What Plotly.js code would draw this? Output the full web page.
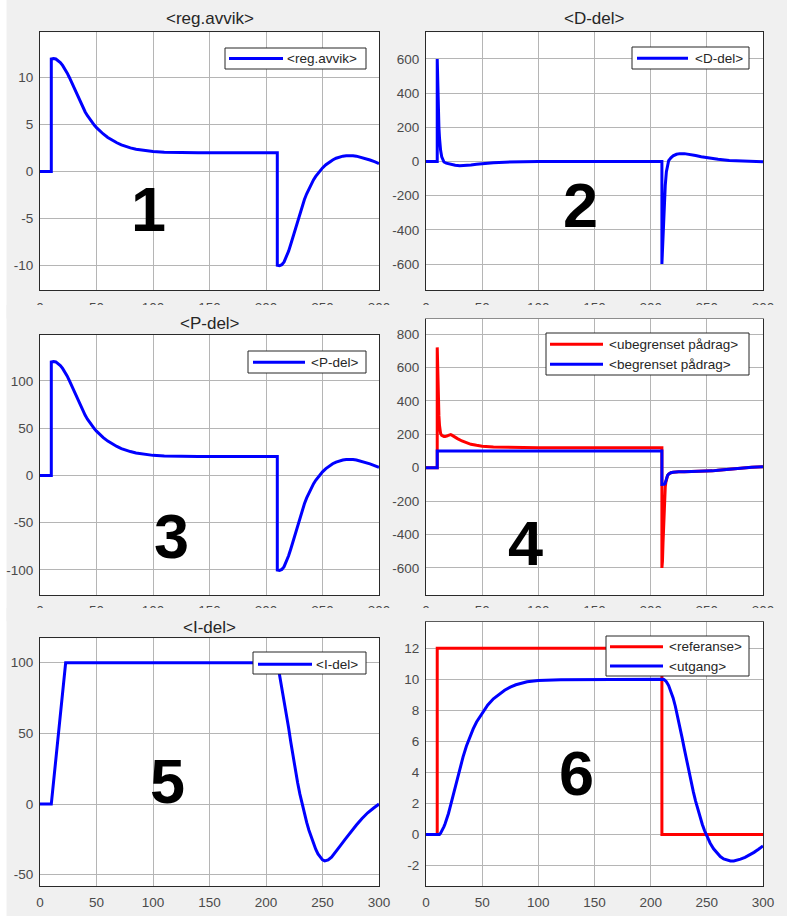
<!DOCTYPE html>
<html>
<head>
<meta charset="utf-8">
<script src="https://cdn.plot.ly/plotly-3.0.1.min.js"></script>
<style>
  html, body { margin: 0; padding: 0; background: #f0f0f0; }
  #plot { width: 787px; height: 916px; }
</style>
</head>
<body>
<div id="plot"></div>
<script>
// ---- tick labels ----
const xTicks  = [0, 50, 100, 150, 200, 250, 300];
const yTicks1 = [-10, -5, 0, 5, 10];
const yTicks2 = [-600, -400, -200, 0, 200, 400, 600];
const yTicks3 = [-100, -50, 0, 50, 100];
const yTicks4 = [-600, -400, -200, 0, 200, 400, 600, 800];
const yTicks5 = [-50, 0, 50, 100];
const yTicks6 = [-2, 0, 2, 4, 6, 8, 10, 12];

// ---- panel titles and legend names ----
const panelTitles = ['<reg.avvik>', '<D-del>', '<P-del>', '', '<I-del>', ''];
const panelNumbers = ['1', '2', '3', '4', '5', '6'];
const nameAvvik = '<reg.avvik>';
const nameD = '<D-del>';
const nameP = '<P-del>';
const nameUbeg = '<ubegrenset pådrag>';
const nameBeg = '<begrenset pådrag>';
const nameI = '<I-del>';
const nameRef = '<referanse>';
const nameUt = '<utgang>';

// ---- 1: control error ----
const tAvvik = [0,10,10,12,14,16,18,20,22,24,26,28,30,32,34,36,38,40,42,44,46,48,50,53,56,60,64,68,72,76,80,85,90,95,100,110,120,140,210,
                210,212,214,216,218,220,222,224,226,228,230,232,234,236,238,240,242,244,246,248,250,253,256,259,262,265,268,271,274,277,280,284,288,292,296,300];
const avvik  = [0,0,12,12.05,12.0,11.85,11.62,11.32,10.95,10.52,10.03,9.5,8.95,8.38,7.82,7.29,6.8,6.35,5.95,5.58,5.25,4.95,4.68,4.32,4.0,3.63,3.32,3.06,2.84,2.66,2.52,2.38,2.27,2.18,2.12,2.05,2.02,2.0,2.0,
                -10,-10.05,-9.95,-9.65,-9.15,-8.5,-7.75,-6.95,-6.1,-5.25,-4.45,-3.7,-3.0,-2.38,-1.82,-1.33,-0.9,-0.52,-0.18,0.12,0.38,0.72,1.0,1.23,1.41,1.54,1.63,1.68,1.7,1.68,1.63,1.52,1.38,1.22,1.04,0.85];

// ---- 2: derivative part ----
const tD = [0,10,10,10.5,11,11.5,12,12.5,13,14,15,16,18,20,23,26,30,35,40,45,50,60,70,80,100,150,210,
            210,210.5,211,211.5,212,212.5,213,214,215,216,218,220,223,226,230,235,240,245,250,255,260,270,280,290,300];
const dDel = [0,0,600,420,290,200,140,95,65,28,8,-3,-10,-14,-19,-22,-25,-24,-20,-16,-12,-7,-4,-2,-0.5,0,0,
              -600,-520,-420,-330,-250,-190,-140,-60,-15,5,22,33,42,46,46,42,35,28,22,17,13,6,2,-1,-2];

// ---- 3: proportional part ----
const tP = [0,10,10,12,14,16,18,20,22,24,26,28,30,32,34,36,38,40,42,44,46,48,50,53,56,60,64,68,72,76,80,85,90,95,100,110,120,140,210,
            210,212,214,216,218,220,222,224,226,228,230,232,234,236,238,240,242,244,246,248,250,253,256,259,262,265,268,271,274,277,280,284,288,292,296,300];
const pDel = [0,0,120,120.5,120,118.5,116.2,113.2,109.5,105.2,100.3,95,89.5,83.8,78.2,72.9,68,63.5,59.5,55.8,52.5,49.5,46.8,43.2,40,36.3,33.2,30.6,28.4,26.6,25.2,23.8,22.7,21.8,21.2,20.5,20.2,20,20,
              -100,-100.5,-99.5,-96.5,-91.5,-85,-77.5,-69.5,-61,-52.5,-44.5,-37,-30,-23.8,-18.2,-13.3,-9,-5.2,-1.8,1.2,3.8,7.2,10,12.3,14.1,15.4,16.3,16.8,17,16.8,16.3,15.2,13.8,12.2,10.4,8.5];

// ---- 4: unbounded and bounded control signal ----
const tUbeg = [0,10,10,10.5,11,11.5,12,12.5,13,14,15,16,17,18,19,20,21,22,23,25,28,32,36,40,45,50,60,70,80,100,150,210,
               210,210.5,211,211.5,212,212.5,213,213.5,214,215,216,217,218,220,222,225,230,240,248,255,260,265,270,275,280,285,290,295,300];
const ubeg  = [0,0,720,530,400,310,255,220,205,193,188,186,186,187,190,194,197,198,195,186,174,160,148,140,134,129,124,122,121,120,120,120,
               -600,-560,-450,-340,-240,-165,-115,-88,-65,-47,-38,-33,-30,-27,-25,-24,-24.5,-24,-23,-19,-15,-11.5,-8,-5,-2.5,0,2.5,4.5,6];
const tBeg  = [0,10,10,210,210,211,212,212.8,213.5,214,215,216,217,218,220,222,225,230,240,248,255,260,265,270,275,280,285,290,295,300];
const beg   = [0,0,100,100,-100,-100,-99,-95,-75,-62,-47,-38,-33,-30,-27,-25,-24,-24.5,-24,-23,-19,-15,-11.5,-8,-5,-2.5,0,2.5,4.5,6];

// ---- 5: integral part ----
const tI = [0,10,22.7,60,120,180,210,211,212,214,216,218,220,222,224,226,228,230,232,234,236,238,240,242,244,246,248,250,252,255,258,262,266,270,275,280,285,290,295,300];
const iDel = [0,0,100,100,100,100,100,96,91.5,83,74,64,54,43.5,33.5,24,15,7,-0.5,-7,-13,-18.5,-23.5,-28,-32,-35.3,-37.9,-39.5,-40.2,-39.6,-37.6,-33.7,-29.3,-25,-19.6,-14.8,-10.2,-6.2,-3,0];

// ---- 6: reference and output ----
const tRef = [0,10,10,210,210,300];
const ref  = [0,0,12,12,0,0];
const tUt = [0,12,13,14,15,16,17,18,19,20,22,24,27,30,33,36,39,42,45,48,50,55,60,65,70,75,80,90,100,120,150,211,212,213,214,216,218,220,222,224,226,228,230,232,234,236,238,240,242,244,246,248,250,253,256,259,262,265,268,271,274,277,280,284,288,292,296,300];
const utgang = [0,0,0.08,0.2,0.33,0.5,0.69,0.9,1.12,1.35,1.9,2.5,3.4,4.2,5.0,5.7,6.3,6.8,7.25,7.6,7.85,8.35,8.75,9.05,9.3,9.5,9.65,9.85,9.93,9.98,10.0,10.0,9.98,9.93,9.85,9.6,9.25,8.8,8.25,7.63,6.95,6.23,5.5,4.77,4.06,3.38,2.74,2.15,1.6,1.1,0.64,0.23,-0.13,-0.57,-0.93,-1.22,-1.43,-1.58,-1.67,-1.71,-1.71,-1.67,-1.6,-1.48,-1.33,-1.16,-0.96,-0.75];

// ---------------- layout helpers ----------------
const W = 787, H = 916;
const fx = x => x / W;
const fy = y => 1 - y / H;

// plot-area boxes in page pixels (left, right, top, bottom)
const boxes = [
  {l: 40,  r: 379, t: 32.3,  b: 290},
  {l: 426, r: 763, t: 32.3,  b: 290},
  {l: 40,  r: 379, t: 335,   b: 595},
  {l: 426, r: 763, t: 319,   b: 595},
  {l: 40,  r: 379, t: 638.3, b: 886},
  {l: 426, r: 763, t: 621.7, b: 886}
];
const yRanges = [[-12.65, 14.85], [-752, 756], [-126.5, 148.5], [-762, 890], [-58, 117.3], [-3.33, 13.72]];
const yTickSets = [yTicks1, yTicks2, yTicks3, yTicks4, yTicks5, yTicks6];
const xStandoff = [5, 5, 3, 3, 4, 4];

const BLUE = '#0000ff', RED = '#ff0000';
const FONT = 'Liberation Sans, Arial, Helvetica, sans-serif';

function line(x, y, k, color) {
  return {x: x, y: y, xaxis: 'x' + (k === 1 ? '' : k), yaxis: 'y' + (k === 1 ? '' : k),
          type: 'scatter', mode: 'lines', line: {color: color, width: 3}, hoverinfo: 'x+y'};
}

const data = [
  line(tAvvik, avvik, 1, BLUE),
  line(tD, dDel, 2, BLUE),
  line(tP, pDel, 3, BLUE),
  line(tUbeg, ubeg, 4, RED),
  line(tBeg, beg, 4, BLUE),
  line(tI, iDel, 5, BLUE),
  line(tRef, ref, 6, RED),
  line(tUt, utgang, 6, BLUE)
];

const layout = {
  width: W, height: H,
  margin: {l: 0, r: 0, t: 0, b: 0},
  paper_bgcolor: '#f0f0f0',
  plot_bgcolor: '#ffffff',
  showlegend: false,
  font: {family: FONT},
  shapes: [],
  annotations: []
};

const axisCommon = {
  showgrid: true, gridcolor: '#b5b5b5', gridwidth: 1,
  zeroline: false,
  showline: true, mirror: true, linecolor: '#2a2a2a', linewidth: 1,
  ticks: '',
  tickfont: {family: FONT, size: 13.5, color: '#4a4a4a'},
  fixedrange: true
};

boxes.forEach((b, i) => {
  const k = i + 1, sfx = k === 1 ? '' : String(k);
  layout['xaxis' + sfx] = Object.assign({}, axisCommon, {
    domain: [fx(b.l), fx(b.r)], anchor: 'y' + sfx,
    range: [0, 300], tickmode: 'array', tickvals: xTicks, ticktext: xTicks.map(String),
    ticklabelstandoff: xStandoff[i]
  });
  layout['yaxis' + sfx] = Object.assign({}, axisCommon, {
    domain: [fy(b.b), fy(b.t)], anchor: 'x' + sfx,
    range: yRanges[i], tickmode: 'array', tickvals: yTickSets[i], ticktext: yTickSets[i].map(String),
    ticklabelstandoff: 3
  });
});

// panel titles
const titlePos = [19, 19, 323, null, 627, null];
panelTitles.forEach((txt, i) => {
  if (!txt) return;
  const b = boxes[i];
  layout.annotations.push({
    xref: 'paper', yref: 'paper', x: fx((b.l + b.r) / 2), y: fy(titlePos[i]),
    xanchor: 'center', yanchor: 'middle', showarrow: false,
    text: txt.replace(/</g, '&lt;').replace(/>/g, '&gt;'),
    font: {family: FONT, size: 17, color: '#262626'}
  });
});

// large panel numbers
const numPos = [[148, 209], [580, 205], [171, 536], [525, 543], [167, 781], [576, 773]];
panelNumbers.forEach((n, i) => {
  layout.annotations.push({
    xref: 'paper', yref: 'paper', x: fx(numPos[i][0]), y: fy(numPos[i][1]),
    xanchor: 'center', yanchor: 'middle', showarrow: false,
    text: '<b>' + n + '</b>',
    font: {family: FONT, size: 63, color: '#000000'}
  });
});

// thin white edge on the left of the window
const EDGE = 6.5;
layout.shapes.push({type: 'rect', xref: 'paper', yref: 'paper', layer: 'below',
  x0: 0, x1: fx(EDGE), y0: 0, y1: 1, fillcolor: '#ffffff', line: {width: 0}});
// strips of the window background that hide the lower half of the upper rows' tick labels
[[305, 318.6], [608, 621.3]].forEach(([y0, y1]) => {
  layout.shapes.push({type: 'rect', xref: 'paper', yref: 'paper', layer: 'above',
    x0: fx(EDGE), x1: 1, y0: fy(y1), y1: fy(y0), fillcolor: '#f0f0f0', line: {width: 0}});
});

// boxed legends drawn inside each panel
const legends = [
  {box: [225, 48, 366, 69],  line: [229, 283], tx: 285, items: [[nameAvvik, BLUE, 58.5]]},
  {box: [632, 47, 749, 69],  line: [637, 688], tx: 693, items: [[nameD, BLUE, 58.3]]},
  {box: [248, 351, 366, 373], line: [253, 305], tx: 309, items: [[nameP, BLUE, 362.3]]},
  {box: [546, 333, 749, 375], line: [550, 603], tx: 607, items: [[nameUbeg, RED, 344.3], [nameBeg, BLUE, 364.3]]},
  {box: [253, 652, 366, 674], line: [258, 312], tx: 314, items: [[nameI, BLUE, 664.3]]},
  {box: [606, 636, 749, 676], line: [610, 663], tx: 667, items: [[nameRef, RED, 646.7], [nameUt, BLUE, 666]]}
];
legends.forEach(L => {
  const [l, t, r, b] = L.box;
  layout.shapes.push({type: 'rect', xref: 'paper', yref: 'paper', layer: 'above',
    x0: fx(l), x1: fx(r), y0: fy(b), y1: fy(t), fillcolor: '#ffffff', line: {color: '#262626', width: 1}});
  L.items.forEach(([name, color, y]) => {
    layout.shapes.push({type: 'line', xref: 'paper', yref: 'paper', layer: 'above',
      x0: fx(L.line[0]), x1: fx(L.line[1]), y0: fy(y), y1: fy(y), line: {color: color, width: 3}});
    layout.annotations.push({xref: 'paper', yref: 'paper', x: fx(L.tx), y: fy(y),
      xanchor: 'left', yanchor: 'middle', showarrow: false,
      text: name.replace(/</g, '&lt;').replace(/>/g, '&gt;'),
      font: {family: FONT, size: 13.5, color: '#262626'}});
  });
});

Plotly.newPlot('plot', data, layout, {displayModeBar: false, staticPlot: true});
</script>
</body>
</html>
